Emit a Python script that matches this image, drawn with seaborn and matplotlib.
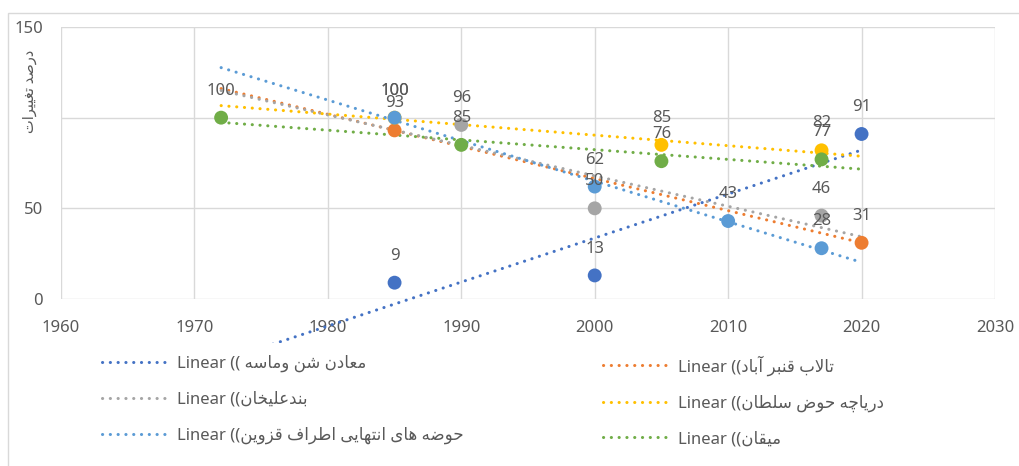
import matplotlib
matplotlib.use("Agg")
import matplotlib.pyplot as plt
from matplotlib.lines import Line2D
from matplotlib.patches import Rectangle
from matplotlib.transforms import Bbox, TransformedBbox
import numpy as np
import pandas as pd
import seaborn as sns

# series (legend order)
series_names = ["معادن شن وماسه", "تالاب قنبر آباد", "بندعلیخان",
                "دریاچه حوض سلطان", "حوضه های انتهایی اطراف قزوین", "میقان"]
series_colors = ["#4472C4", "#ED7D31", "#A5A5A5", "#FFC000", "#5B9BD5", "#70AD47"]

years_maaden = [1985, 2000, 2020]
vals_maaden = [9, 13, 91]
years_ghanbar = [1985, 2020]
vals_ghanbar = [93, 31]
years_band = [1990, 2000, 2017]
vals_band = [96, 50, 46]
years_howz = [1985, 2005, 2017]
vals_howz = [100, 85, 82]
years_qazvin = [1985, 2000, 2010, 2017]
vals_qazvin = [100, 62, 43, 28]
years_meyghan = [1972, 1990, 2005, 2017]
vals_meyghan = [100, 85, 76, 77]

trend_start, trend_end = 1972, 2020
x_ticks = [1960, 1970, 1980, 1990, 2000, 2010, 2020, 2030]
y_ticks = [0, 50, 100, 150]
y_ticklabels = ["0", "50", "", "150"]
y_title = "درصد تغییرات"

all_years = [years_maaden, years_ghanbar, years_band, years_howz, years_qazvin, years_meyghan]
all_vals = [vals_maaden, vals_ghanbar, vals_band, vals_howz, vals_qazvin, vals_meyghan]

# --- minimal persian shaping (matplotlib has no bidi / joining) ---
FORMS = {
    'ا': ('\uFE8D', '\uFE8E', None, None),
    'آ': ('\uFE81', '\uFE82', None, None),
    'ب': ('\uFE8F', '\uFE90', '\uFE91', '\uFE92'),
    'ت': ('\uFE95', '\uFE96', '\uFE97', '\uFE98'),
    'ح': ('\uFEA1', '\uFEA2', '\uFEA3', '\uFEA4'),
    'خ': ('\uFEA5', '\uFEA6', '\uFEA7', '\uFEA8'),
    'د': ('\uFEA9', '\uFEAA', None, None),
    'ر': ('\uFEAD', '\uFEAE', None, None),
    'ز': ('\uFEAF', '\uFEB0', None, None),
    'س': ('\uFEB1', '\uFEB2', '\uFEB3', '\uFEB4'),
    'ش': ('\uFEB5', '\uFEB6', '\uFEB7', '\uFEB8'),
    'ص': ('\uFEB9', '\uFEBA', '\uFEBB', '\uFEBC'),
    'ض': ('\uFEBD', '\uFEBE', '\uFEBF', '\uFEC0'),
    'ط': ('\uFEC1', '\uFEC2', '\uFEC3', '\uFEC4'),
    'ع': ('\uFEC9', '\uFECA', '\uFECB', '\uFECC'),
    'غ': ('\uFECD', '\uFECE', '\uFECF', '\uFED0'),
    'ف': ('\uFED1', '\uFED2', '\uFED3', '\uFED4'),
    'ق': ('\uFED5', '\uFED6', '\uFED7', '\uFED8'),
    'ل': ('\uFEDD', '\uFEDE', '\uFEDF', '\uFEE0'),
    'م': ('\uFEE1', '\uFEE2', '\uFEE3', '\uFEE4'),
    'ن': ('\uFEE5', '\uFEE6', '\uFEE7', '\uFEE8'),
    'ه': ('\uFEE9', '\uFEEA', '\uFEEB', '\uFEEC'),
    'و': ('\uFEED', '\uFEEE', None, None),
    '\u06CC': ('\uFBFC', '\uFBFD', '\uFBFE', '\uFBFF'),
    'چ': ('\uFB7A', '\uFB7B', '\uFB7C', '\uFB7D'),
}
LAM_ALEF = {'ا': ('\uFEFB', '\uFEFC'), 'آ': ('\uFEF5', '\uFEF6')}


def farsi(text):
    text = text.replace('\u064A', '\u06CC')
    out = []
    i = 0
    n = len(text)
    while i < n:
        c = text[i]
        if c not in FORMS:
            out.append(c)
            i += 1
            continue
        prev = i > 0 and text[i - 1] in FORMS and FORMS[text[i - 1]][2] is not None
        if c == 'ل' and i + 1 < n and text[i + 1] in LAM_ALEF:
            lig = LAM_ALEF[text[i + 1]]
            out.append(lig[1] if prev else lig[0])
            i += 2
            continue
        isol, fina, init, medi = FORMS[c]
        nxt = init is not None and i + 1 < n and text[i + 1] in FORMS
        if prev and nxt:
            out.append(medi)
        elif prev:
            out.append(fina)
        elif nxt:
            out.append(init)
        else:
            out.append(isol)
        i += 1
    return ''.join(reversed(out))


rows = []
for name, yrs, vals in zip(series_names, all_years, all_vals):
    for yr, v in zip(yrs, vals):
        rows.append({"series": name, "year": yr, "value": v})
df = pd.DataFrame(rows)

sns.set_style("white")
plt.rcParams['font.family'] = ['Noto Sans', 'DejaVu Sans']
txt_color = "#595959"
grid_color = "#D9D9D9"
fs = 12

fig = plt.figure(figsize=(10.19, 4.66), dpi=100)
W, H = 1019, 466
ax = fig.add_axes([61 / W, 1 - 299 / H, (995 - 61) / W, (299 - 27) / H])

# chart border
fig.patches.append(Rectangle((8 / W, -0.05), 1.1, 1 - 13 / H + 0.05, transform=fig.transFigure,
                             fill=False, edgecolor=grid_color, linewidth=1))

ax.set_xlim(1960, 2030)
ax.set_ylim(0, 150)
ax.set_xticks(x_ticks)
ax.set_yticks(y_ticks)
ax.set_yticklabels(y_ticklabels)
ax.grid(True, color=grid_color, linewidth=1)
ax.set_axisbelow(True)
for sp in ax.spines.values():
    sp.set_visible(False)
ax.tick_params(length=0, labelsize=fs, labelcolor=txt_color)
ax.tick_params(axis="y", pad=13)
ax.tick_params(axis="x", pad=15)

dots = (0, (0.05, 2.5))
lw = 2.2
clip = TransformedBbox(Bbox([[1950, -24], [2040, 160]]), ax.transData)
xs = np.array([trend_start, trend_end])
for name, col, yrs, vals in zip(series_names, series_colors, all_years, all_vals):
    k, b = np.polyfit(yrs, vals, 1)
    ln, = ax.plot(xs, k * xs + b, color=col, linewidth=lw, linestyle=dots,
                  dash_capstyle="round", zorder=2)
    ln.set_clip_box(clip)

sns.scatterplot(data=df, x="year", y="value", hue="series", hue_order=series_names,
                palette=series_colors, s=100, linewidth=0, legend=False, ax=ax, zorder=3,
                clip_on=False)
ax.set_xlabel("")
ax.set_ylabel("")

for _, r in df.iterrows():
    ax.annotate(str(r["value"]), (r["year"], r["value"]), xytext=(0, 16.5),
                textcoords="offset points", ha="center", va="baseline",
                fontsize=fs, color=txt_color, zorder=4)

fig.text(30 / W, 1 - 91 / H, farsi(y_title), rotation=90, ha="center", va="center",
         fontsize=10.5, color=txt_color)

# legend: two columns placed explicitly
handles = [Line2D([0], [0], color=c, linewidth=lw, linestyle=dots, dash_capstyle="round")
           for c in series_colors]
labels = ["Linear (( " + farsi(series_names[0])] + ["Linear ((" + farsi(n) for n in series_names[1:]]
leg_kw = dict(loc="upper left", frameon=False, borderpad=0, borderaxespad=0,
              handlelength=4.1, handletextpad=0.4, labelspacing=1.15, fontsize=fs,
              labelcolor=txt_color, bbox_transform=fig.transFigure)
leg1 = fig.legend([handles[i] for i in (0, 2, 4)], [labels[i] for i in (0, 2, 4)],
                  bbox_to_anchor=(102 / W, 1 - 355 / H), **leg_kw)
leg2 = fig.legend([handles[i] for i in (1, 3, 5)], [labels[i] for i in (1, 3, 5)],
                  bbox_to_anchor=(603 / W, 1 - 355 / H), **leg_kw)

fig.savefig("out.png", dpi=100)
